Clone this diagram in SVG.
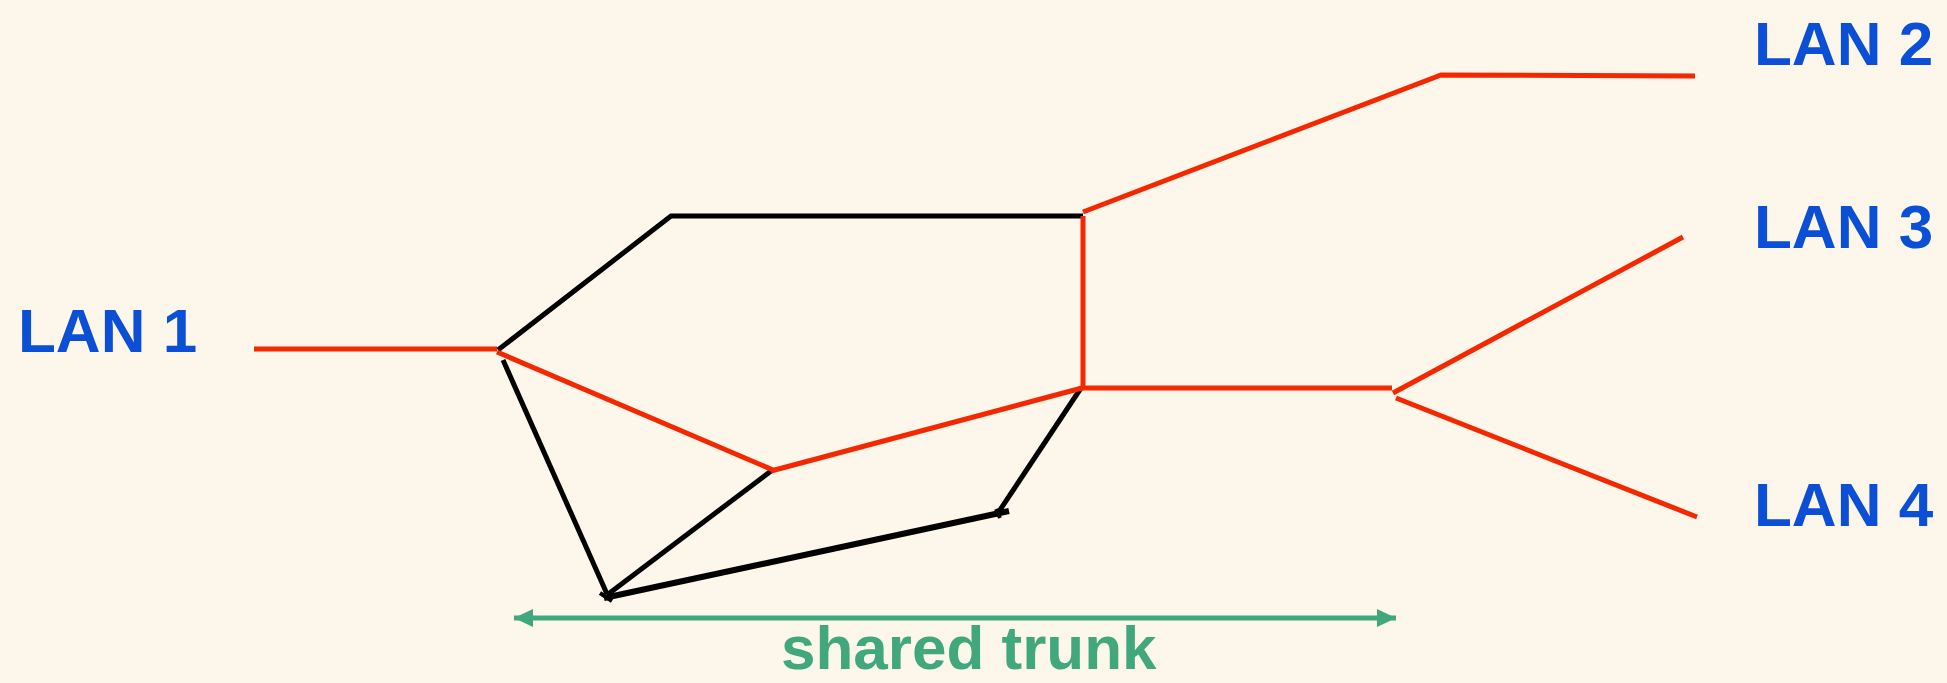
<svg xmlns="http://www.w3.org/2000/svg" width="1947" height="683" viewBox="0 0 1947 683">
  <style>
    .lan { font-family: "Liberation Sans", Arial, sans-serif; font-weight: bold; font-size: 62px; fill: #0A4FD6; }
    .trunk { font-family: "Liberation Sans", Arial, sans-serif; font-weight: bold; font-size: 62px; fill: #40A87C; }
    .red { stroke: #F42800; stroke-width: 5; fill: none; stroke-linecap: butt; stroke-linejoin: miter; }
    .blk { stroke: #000000; stroke-width: 5; fill: none; stroke-linecap: butt; stroke-linejoin: miter; }
    .grn { stroke: #40A87C; stroke-width: 5; fill: none; }
  </style>
  <defs>
    <marker id="arrowEnd" markerUnits="userSpaceOnUse" markerWidth="20" markerHeight="18" refX="19" refY="9" orient="auto">
      <path d="M0,0 L19,9 L0,18 Z" fill="#40A87C"/>
    </marker>
    <marker id="arrowStart" markerUnits="userSpaceOnUse" markerWidth="20" markerHeight="18" refX="0" refY="9" orient="auto">
      <path d="M19,0 L0,9 L19,18 Z" fill="#40A87C"/>
    </marker>
  </defs>
  <rect x="0" y="0" width="1947" height="683" fill="#FDF6EA"/>

  <g id="connectors">
    <!-- black backbone links -->
    <polyline class="blk" points="498,350 671,216 1083,216"/>
    <line class="blk" x1="503" y1="360" x2="607" y2="594"/>
    <line class="blk" x1="771" y1="471" x2="607" y2="595"/>
    <line class="blk" x1="604" y1="598" x2="1009" y2="511" style="stroke-width:6"/>
    <line class="blk" x1="1081" y1="388" x2="998" y2="513"/>
    <line class="blk" x1="600" y1="593" x2="612" y2="601" style="stroke-width:4"/>
    <line class="blk" x1="996" y1="509" x2="1000" y2="518" style="stroke-width:4"/>
    <!-- red spanning tree -->
    <line class="red" x1="254" y1="349" x2="497" y2="349"/>
    <line class="red" x1="497" y1="352" x2="773" y2="470"/>
    <line class="red" x1="771" y1="471" x2="1082" y2="388"/>
    <line class="red" x1="1083" y1="216" x2="1083" y2="388"/>
    <line class="red" x1="1081" y1="388" x2="1392" y2="388"/>
    <polyline class="red" points="1083,212 1441,75 1695,76"/>
    <line class="red" x1="1393" y1="393" x2="1683" y2="237"/>
    <line class="red" x1="1396" y1="398" x2="1697" y2="517"/>
    <!-- shared trunk arrow -->
    <line class="grn" x1="514" y1="618" x2="1396" y2="618" marker-start="url(#arrowStart)" marker-end="url(#arrowEnd)"/>
  </g>

  <g id="lan1"><text class="lan" x="18" y="352">LAN 1</text></g>
  <g id="lan2"><text class="lan" x="1754" y="65">LAN 2</text></g>
  <g id="lan3"><text class="lan" x="1754" y="248">LAN 3</text></g>
  <g id="lan4"><text class="lan" x="1754" y="526">LAN 4</text></g>
  <g id="shared-trunk-label"><text class="trunk" x="781" y="669">shared trunk</text></g>
</svg>
